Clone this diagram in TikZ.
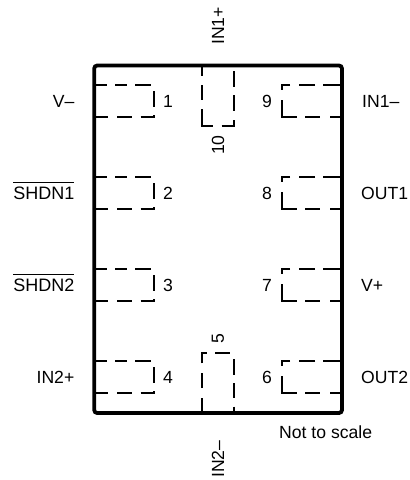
\documentclass[tikz,border=0pt]{standalone}
\usepackage{fontspec}
\setmainfont{Liberation Sans}
\newcommand\barred[1]{\vbox{\hrule height 1.1pt \kern 3.6pt \hbox{\fontsize{18}{20}\selectfont #1}}}
\tikzset{
  every node/.style={font=\fontsize{17.6}{20}\selectfont, inner sep=0pt},
  outline/.style={line width=3.8pt, rounded corners=3pt},
  pad/.style={line width=2pt},
  leftlab/.style={anchor=base east},
  rightlab/.style={anchor=base west},
  num/.style={anchor=base},
}
\begin{document}
\begin{tikzpicture}[x=1pt,y=-1pt]
\useasboundingbox (0,0) rectangle (410,480);
% side pads, drawn dash by dash
\foreach \y in {85,177,269,361}{
  \draw[pad] (96,\y) -- (106.7,\y) (115,\y) -- (127.3,\y) (135,\y) -- (150.7,\y)
             (154,\y+6.4) -- (154,\y+22)
             (96,\y+32) -- (108,\y+32) (117,\y+32) -- (131.7,\y+32)
             (140.7,\y+32) -- (154,\y+32) -- (154,\y+29.7);
  \draw[pad] (342,\y) -- (323,\y) (315,\y) -- (299,\y)
             (290,\y) -- (282,\y) -- (282,\y+5.4)
             (282,\y+15.4) -- (282,\y+32) -- (296.7,\y+32)
             (305,\y+32) -- (320,\y+32) (330,\y+32) -- (342,\y+32);
}
% pad of pin 10
\draw[pad] (202,66) -- (202,76) (202,85) -- (202,100)
           (202,109) -- (202,126) -- (213.3,126)
           (221.7,126) -- (234,126) -- (234,120)
           (234,110.7) -- (234,95) (234,86.7) -- (234,70.7);
% pad of pin 5
\draw[pad] (202,412) -- (202,398) (202,388) -- (202,373)
           (202,363.3) -- (202,353) -- (206.7,353)
           (215,353) -- (230,353)
           (234,359.3) -- (234,375) (234,383) -- (234,398) (234,406.7) -- (234,412);
% outline
\draw[outline] (94.2,65.5) rectangle (342,413);
% numbers
\node[num] (n1) at (168,107.3) {1};
\node[num] (n2) at (168,199.3) {2};
\node[num] (n3) at (168,291.3) {3};
\node[num] (n4) at (168,383.3) {4};
\node[num] (n6) at (267,383.3) {6};
\node[num] (n7) at (267,291.3) {7};
\node[num] (n8) at (267,199.3) {8};
\node[num] (n9) at (267,107.3) {9};
\node[rotate=90] (n10) at (218,145) {10};
\node[rotate=90] (n5) at (218,339) {5};
% labels
\node[leftlab] (l1) at (74.5,107.3) {V–};
\node[leftlab] (l2) at (74.5,199.3) {\barred{SHDN1}};
\node[leftlab] (l3) at (74.5,291.3) {\barred{SHDN2}};
\node[leftlab] (l4) at (74.5,383.3) {IN2+};
\node[rightlab] (r1) at (362,107.3) {IN1–};
\node[rightlab] (r2) at (361,199.3) {OUT1};
\node[rightlab] (r3) at (361,291.3) {V+};
\node[rightlab] (r4) at (361,383.3) {OUT2};
\node[rotate=90,anchor=west] (top) at (218,45) {IN1+};
\node[rotate=90,anchor=west] (bot) at (218,478) {IN2–};
\node[anchor=base west] (note) at (279,438.3) {Not to scale};
\end{tikzpicture}
\end{document}
